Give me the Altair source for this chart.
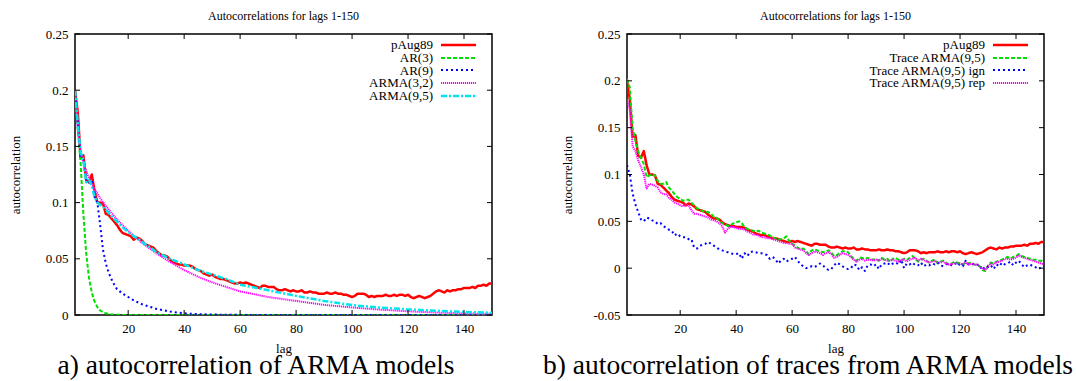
import altair as alt
import pandas as pd

# ---------------- data ----------------
LAGS = list(range(1, 151))

PAUG89 = [0.200, 0.180, 0.140, 0.142, 0.120, 0.118, 0.125, 0.110, 0.100, 0.100,
          0.099, 0.090, 0.089, 0.086, 0.083, 0.080, 0.076, 0.073, 0.072, 0.071,
          0.070, 0.067, 0.069, 0.068, 0.066, 0.063, 0.062, 0.061, 0.060, 0.057,
          0.055, 0.053, 0.053, 0.052, 0.049, 0.047, 0.046, 0.045, 0.045, 0.044,
          0.044, 0.044, 0.043, 0.041, 0.040, 0.039, 0.037, 0.036, 0.035, 0.036,
          0.034, 0.033, 0.032, 0.032, 0.031, 0.030, 0.029, 0.028, 0.028, 0.029,
          0.028, 0.029, 0.028, 0.027, 0.026, 0.025, 0.024, 0.026, 0.026, 0.025,
          0.025, 0.025, 0.023, 0.022, 0.022, 0.023, 0.022, 0.021, 0.022, 0.021,
          0.021, 0.022, 0.020, 0.020, 0.021, 0.020, 0.020, 0.019, 0.019, 0.019,
          0.020, 0.019, 0.019, 0.020, 0.019, 0.019, 0.018, 0.018, 0.017, 0.016,
          0.017, 0.019, 0.019, 0.019, 0.018, 0.016, 0.017, 0.016, 0.017, 0.017,
          0.017, 0.018, 0.017, 0.017, 0.018, 0.017, 0.018, 0.018, 0.017, 0.018,
          0.016, 0.015, 0.016, 0.017, 0.016, 0.015, 0.016, 0.017, 0.019, 0.021,
          0.022, 0.021, 0.020, 0.022, 0.021, 0.022, 0.022, 0.023, 0.023, 0.024,
          0.024, 0.024, 0.025, 0.024, 0.026, 0.026, 0.027, 0.026, 0.028, 0.028]

AR3_LAGS = [1, 2, 3, 4, 5, 6, 7, 8, 9, 10, 11, 12, 14, 16, 20, 30, 150]
AR3_VALS = [0.200, 0.165, 0.135, 0.090, 0.055, 0.033, 0.020, 0.012, 0.007, 0.004,
            0.0025, 0.0015, 0.0006, 0.0002, 0.0, 0.0, 0.0]

AR9_LAGS = [1, 2, 3, 4, 5, 6, 7, 8, 9, 10, 11, 12, 13, 14, 15, 16, 18, 20, 22, 25,
            30, 35, 40, 45, 50, 60, 150]
AR9_VALS = [0.200, 0.170, 0.140, 0.138, 0.120, 0.118, 0.120, 0.105, 0.100, 0.080,
            0.058, 0.046, 0.038, 0.032, 0.027, 0.023, 0.019, 0.016, 0.013, 0.0095,
            0.0055, 0.003, 0.0015, 0.0008, 0.0004, 0.0001, 0.0]

ARMA32_LAGS = [1, 2, 3, 4, 5, 6, 7, 8, 9, 10, 12, 14, 16, 18, 20, 25, 30, 35, 40, 45,
               50, 55, 60, 70, 80, 90, 100, 110, 120, 130, 140, 150]
ARMA32_VALS = [0.200, 0.165, 0.145, 0.135, 0.128, 0.122, 0.117, 0.112, 0.108, 0.104,
               0.097, 0.091, 0.085, 0.080, 0.075, 0.064, 0.055, 0.047, 0.040, 0.034,
               0.029, 0.025, 0.021, 0.016, 0.0125, 0.009, 0.0067, 0.0048, 0.0033,
               0.0022, 0.0014, 0.001]

ARMA95_LAGS = [1, 2, 3, 4, 5, 6, 7, 8, 9, 10, 12, 14, 16, 18, 20, 22, 24, 26, 28, 30,
               35, 40, 45, 50, 55, 60, 70, 80, 90, 100, 110, 120, 130, 140, 150]
ARMA95_VALS = [0.200, 0.170, 0.145, 0.138, 0.118, 0.120, 0.115, 0.105, 0.100, 0.098,
               0.094, 0.088, 0.083, 0.078, 0.074, 0.070, 0.067, 0.063, 0.060, 0.056,
               0.050, 0.045, 0.040, 0.036, 0.032, 0.027, 0.022, 0.017, 0.0125, 0.0088,
               0.0066, 0.005, 0.0038, 0.0027, 0.002]

TRACE95 = [0.202, 0.193, 0.150, 0.136, 0.125, 0.118, 0.111, 0.097, 0.099, 0.100,
           0.099, 0.093, 0.090, 0.090, 0.092, 0.086, 0.083, 0.079, 0.076, 0.074,
           0.072, 0.073, 0.073, 0.070, 0.067, 0.064, 0.063, 0.061, 0.060, 0.060,
           0.058, 0.055, 0.054, 0.051, 0.048, 0.047, 0.045, 0.046, 0.048, 0.049,
           0.050, 0.048, 0.044, 0.042, 0.041, 0.040, 0.039, 0.040, 0.038, 0.037,
           0.036, 0.035, 0.033, 0.032, 0.030, 0.031, 0.032, 0.034, 0.029, 0.026,
           0.024, 0.022, 0.020, 0.021, 0.018, 0.015, 0.019, 0.020, 0.019, 0.018,
           0.017, 0.018, 0.019, 0.017, 0.013, 0.014, 0.016, 0.018, 0.018, 0.017,
           0.013, 0.010, 0.008, 0.011, 0.011, 0.010, 0.011, 0.010, 0.009, 0.010,
           0.008, 0.011, 0.009, 0.010, 0.007, 0.010, 0.011, 0.009, 0.008, 0.010,
           0.009, 0.011, 0.013, 0.010, 0.007, 0.009, 0.010, 0.008, 0.006, 0.008,
           0.009, 0.005, 0.007, 0.008, 0.006, 0.004, 0.005, 0.007, 0.006, 0.005,
           0.004, 0.006, 0.005, 0.006, 0.004, 0.003, 0.002, -0.002, -0.003, 0.003,
           0.006, 0.005, 0.007, 0.008, 0.009, 0.011, 0.012, 0.010, 0.012, 0.013,
           0.015, 0.013, 0.012, 0.011, 0.010, 0.009, 0.009, 0.008, 0.008, 0.006]

TRACE95_IGN = [0.110, 0.100, 0.080, 0.068, 0.060, 0.052, 0.050, 0.054, 0.053, 0.051,
               0.050, 0.047, 0.048, 0.045, 0.043, 0.041, 0.040, 0.035, 0.037, 0.034,
               0.033, 0.033, 0.031, 0.031, 0.022, 0.021, 0.024, 0.025, 0.026, 0.028,
               0.026, 0.024, 0.022, 0.020, 0.019, 0.018, 0.017, 0.016, 0.015, 0.015,
               0.016, 0.010, 0.016, 0.013, 0.017, 0.018, 0.017, 0.016, 0.016, 0.015,
               0.014, 0.010, 0.012, 0.010, 0.005, 0.008, 0.010, 0.007, 0.009, 0.010,
               0.012, 0.008, 0.004, 0.002, 0.000, 0.001, 0.002, 0.001, 0.003, 0.005,
               0.003, 0.000, -0.002, -0.001, 0.003, 0.006, 0.004, 0.002, 0.000, -0.001,
               0.000, 0.004, 0.003, -0.002, 0.001, -0.003, 0.003, 0.004, 0.002, 0.004,
               -0.001, 0.004, 0.005, 0.006, 0.003, 0.005, 0.006, 0.004, 0.009, 0.000,
               0.005, 0.004, 0.006, 0.003, 0.003, 0.006, 0.002, 0.004, 0.003, 0.005,
               0.004, 0.006, 0.003, 0.002, 0.004, 0.005, 0.003, 0.004, 0.006, 0.003,
               0.002, 0.008, 0.004, 0.003, 0.005, 0.004, 0.003, -0.002, 0.002, 0.001,
               0.003, -0.001, 0.004, 0.002, 0.006, 0.004, 0.005, 0.007, 0.003, 0.006,
               0.008, 0.004, 0.001, 0.003, 0.004, 0.002, 0.001, -0.001, 0.001, 0.003]

TRACE95_REP = [0.180, 0.170, 0.130, 0.125, 0.115, 0.108, 0.100, 0.085, 0.090, 0.089,
               0.088, 0.086, 0.081, 0.079, 0.079, 0.075, 0.073, 0.070, 0.069, 0.067,
               0.066, 0.068, 0.067, 0.062, 0.058, 0.058, 0.057, 0.056, 0.055, 0.054,
               0.052, 0.051, 0.050, 0.048, 0.045, 0.038, 0.042, 0.044, 0.044, 0.043,
               0.042, 0.042, 0.041, 0.039, 0.038, 0.036, 0.036, 0.035, 0.033, 0.033,
               0.032, 0.032, 0.031, 0.030, 0.029, 0.028, 0.027, 0.027, 0.026, 0.026,
               0.022, 0.021, 0.020, 0.019, 0.016, 0.014, 0.016, 0.018, 0.017, 0.016,
               0.014, 0.016, 0.017, 0.015, 0.011, 0.012, 0.014, 0.016, 0.015, 0.014,
               0.012, 0.009, 0.007, 0.009, 0.010, 0.008, 0.009, 0.009, 0.008, 0.009,
               0.008, 0.010, 0.009, 0.008, 0.008, 0.009, 0.008, 0.007, 0.009, 0.009,
               0.007, 0.009, 0.010, 0.011, 0.008, 0.010, 0.009, 0.007, 0.006, 0.007,
               0.008, 0.006, 0.006, 0.007, 0.005, 0.004, 0.004, 0.006, 0.005, 0.005,
               0.004, 0.006, 0.004, 0.005, 0.004, 0.004, 0.002, 0.000, -0.002, 0.002,
               0.005, 0.004, 0.006, 0.007, 0.008, 0.010, 0.010, 0.009, 0.010, 0.011,
               0.014, 0.012, 0.011, 0.010, 0.009, 0.008, 0.007, 0.006, 0.005, 0.004]

X_TICKS = [20, 40, 60, 80, 100, 120, 140]
Y_TICKS_A = [0, 0.05, 0.1, 0.15, 0.2, 0.25]
Y_TICKS_B = [-0.05, 0, 0.05, 0.1, 0.15, 0.2, 0.25]

TITLE = "Autocorrelations for lags 1-150"
CAPTION_A = "a) autocorrelation of ARMA models"
CAPTION_B = "b) autocorrelation of traces from ARMA models"

# (name, lags, values, color, dash, width)
SERIES_A = [
    ("pAug89", LAGS, PAUG89, "#ff0000", [1, 0], 2.5),
    ("AR(3)", AR3_LAGS, AR3_VALS, "#00e000", [4, 2], 2.0),
    ("AR(9)", AR9_LAGS, AR9_VALS, "#0000ff", [2, 3], 2.0),
    ("ARMA(3,2)", ARMA32_LAGS, ARMA32_VALS, "#ff00ff", [1.2, 0.8], 2.0),
    ("ARMA(9,5)", ARMA95_LAGS, ARMA95_VALS, "#00e5ee", [6, 2, 2, 2], 2.5),
]
SERIES_B = [
    ("pAug89", LAGS, PAUG89, "#ff0000", [1, 0], 2.5),
    ("Trace ARMA(9,5)", LAGS, TRACE95, "#00e000", [4, 2], 2.0),
    ("Trace ARMA(9,5) ign", LAGS, TRACE95_IGN, "#0000ff", [2, 3], 2.0),
    ("Trace ARMA(9,5) rep", LAGS, TRACE95_REP, "#ff00ff", [1.2, 0.8], 2.0),
]

W, H = 417, 281
FONT = "Liberation Serif"


def panel(series, ydomain, yticks, caption, anchor):
    xs = alt.Scale(domain=[1, 150], nice=False, zero=False)
    ys = alt.Scale(domain=ydomain, nice=False, zero=False)
    xenc = alt.X("lag:Q", scale=xs, axis=alt.Axis(
        values=X_TICKS, title="lag", titleX=W / 2, titleY=33,
        titleBaseline="middle", titleAlign="center", labelPadding=7))
    yenc = alt.Y("value:Q", scale=ys, axis=alt.Axis(
        values=yticks, format="~g", title="autocorrelation",
        titleX=-60, titleY=H / 2, titleAngle=270, titleAlign="center",
        titleBaseline="middle", labelPadding=7,
        labelExpr="replace(datum.label, '\u2212', '-')"))
    layers = []
    for name, lags, vals, color, dash, width in series:
        df = pd.DataFrame({"lag": lags, "value": vals})
        layers.append(alt.Chart(df).mark_line(
            color=color, strokeDash=dash, strokeWidth=width, clip=True,
            strokeCap="butt", strokeJoin="round").encode(x=xenc, y=yenc))

    # inward tick marks on all four sides
    xt = pd.DataFrame({"t": X_TICKS})
    yt = pd.DataFrame({"t": yticks})
    tl = 5
    layers.append(alt.Chart(xt).mark_rule(color="black", strokeWidth=1).encode(
        x=alt.X("t:Q", scale=xs), y=alt.value(H), y2=alt.value(H - tl)))
    layers.append(alt.Chart(xt).mark_rule(color="black", strokeWidth=1).encode(
        x=alt.X("t:Q", scale=xs), y=alt.value(0), y2=alt.value(tl)))
    layers.append(alt.Chart(yt).mark_rule(color="black", strokeWidth=1).encode(
        y=alt.Y("t:Q", scale=ys), x=alt.value(0), x2=alt.value(tl)))
    layers.append(alt.Chart(yt).mark_rule(color="black", strokeWidth=1).encode(
        y=alt.Y("t:Q", scale=ys), x=alt.value(W), x2=alt.value(W - tl)))

    # key (gnuplot style: label on the left, sample on the right)
    for i, (name, lags, vals, color, dash, width) in enumerate(series):
        yy = 11 + i * 12.75
        one = pd.DataFrame({"label": [name]})
        layers.append(alt.Chart(one).mark_text(
            align="right", baseline="middle", font=FONT, fontSize=13,
            color="black").encode(text="label:N", x=alt.value(358), y=alt.value(yy)))
        layers.append(alt.Chart(one).mark_rule(
            color=color, strokeDash=dash, strokeWidth=width, strokeCap="butt").encode(
            x=alt.value(366), x2=alt.value(401), y=alt.value(round(yy))))

    one = pd.DataFrame({"c": [caption], "t": [TITLE]})
    layers.append(alt.Chart(one).mark_text(
        align="center", baseline="alphabetic", font=FONT, fontSize=27.5,
        color="black").encode(text="c:N", x=alt.value(181), y=alt.value(340)))
    layers.append(alt.Chart(one).mark_text(
        align="center", baseline="middle", font=FONT, fontSize=12,
        color="black").encode(text="t:N", x=alt.value(W / 2), y=alt.value(-18)))

    if anchor:
        # invisible corner marker fixing the page origin of the layout
        layers.append(alt.Chart(one).mark_rule(
            opacity=0, strokeWidth=1, color="white").encode(
            x=alt.value(-73.5), y=alt.value(-32.5), y2=alt.value(-30)))

    return alt.layer(*layers).properties(width=W, height=H)


left = panel(SERIES_A, [0, 0.25], Y_TICKS_A, CAPTION_A, True)
right = panel(SERIES_B, [-0.05, 0.25], Y_TICKS_B, CAPTION_B, False)

chart = alt.hconcat(left, right, spacing=135, bounds="flush").resolve_scale(
    x="independent", y="independent"
).properties(
    padding=0,
    background="white",
).configure_view(
    stroke="black", strokeWidth=1.5
).configure_axis(
    domain=False, grid=False, ticks=False, tickSize=0,
    labelFont=FONT, labelFontSize=13, labelColor="black",
    titleFont=FONT, titleFontSize=13, titleFontWeight="normal", titleColor="black",
)

chart.save("out.html", embed_options={"renderer": "svg", "actions": False})
